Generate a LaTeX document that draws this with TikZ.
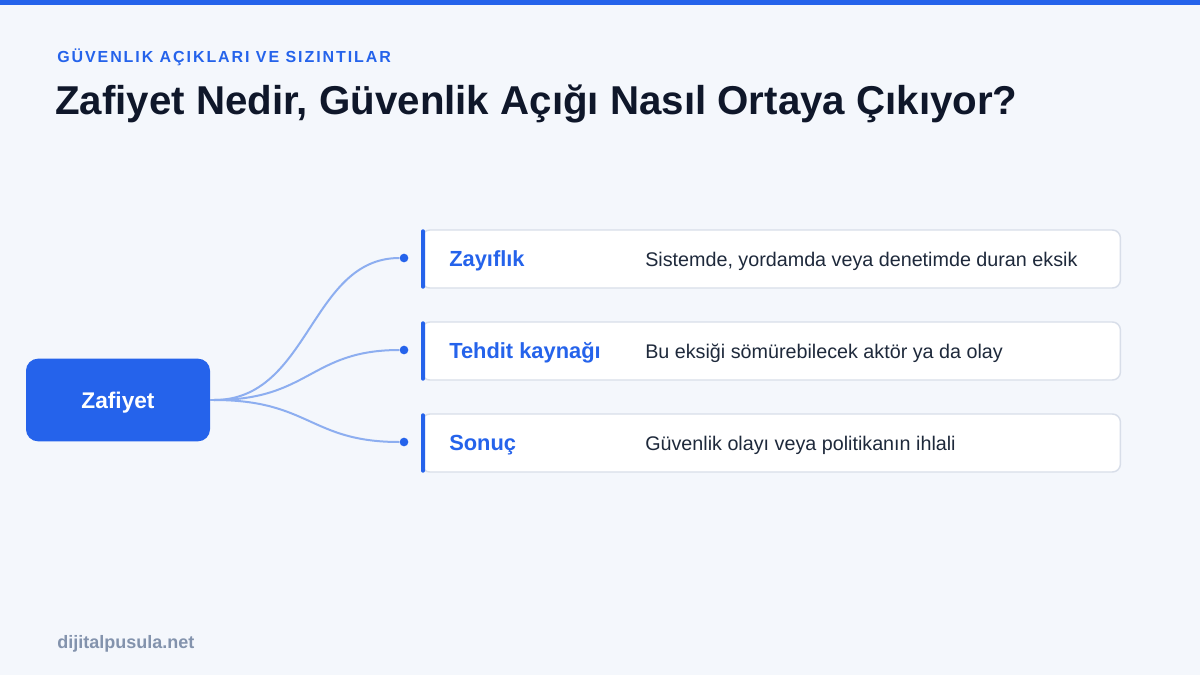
\documentclass[tikz,border=0pt]{standalone}
\usepackage{fontspec}
\setmainfont{Liberation Sans}
\usetikzlibrary{positioning}

\definecolor{pagebg}{HTML}{F4F7FC}
\definecolor{brand}{HTML}{2563EB}
\definecolor{ink}{HTML}{0F172A}
\definecolor{bodyink}{HTML}{1E293B}
\definecolor{wire}{HTML}{8DAEF0}
\definecolor{edge}{HTML}{D8DEE9}
\definecolor{muted}{HTML}{8393AD}

\tikzset{
  root/.style     = {rectangle, rounded corners=9pt, fill=brand, text=white, font=\bfseries\fontsize{17}{20}\selectfont, minimum width=138pt, minimum height=62pt, text depth=0pt, text height=12pt},
  card/.style     = {rectangle, rounded corners=6pt, fill=white, draw=edge, line width=1.1pt, minimum width=524pt, minimum height=43.5pt, anchor=west},
  cardlabel/.style= {text=brand, font=\bfseries\fontsize{16.4}{19}\selectfont, anchor=west, inner sep=0pt},
  carddesc/.style = {text=bodyink, font=\fontsize{14.8}{17}\selectfont, anchor=west, inner sep=0pt},
  wirestyle/.style= {draw=wire, line width=1.5pt},
  pin/.style      = {circle, fill=brand, inner sep=0pt, minimum size=6.5pt},
}

\begin{document}
\begin{tikzpicture}[x=0.75pt, y=-0.75pt]
    % page
    \fill[pagebg] (0,0) rectangle (1200,675);
    \fill[brand] (0,0) rectangle (1200,5);
    \useasboundingbox (0,0) rectangle (1200,675);

    % heading
    \node[anchor=base west, inner sep=0pt, text=brand, font=\bfseries\fontsize{12}{14}\selectfont\addfontfeature{LetterSpace=12}] (kicker) at (57,62) {GÜVENLIK AÇIKLARI VE SIZINTILAR};
    \node[anchor=base west, inner sep=0pt, text=ink, font=\bfseries\fontsize{30.2}{36}\selectfont] (title) at (55,114) {Zafiyet Nedir, Güvenlik Açığı Nasıl Ortaya Çıkıyor?};

    % root
    \node[root] (zafiyet) at (118,400) {Zafiyet};
    \coordinate (fork) at (214,400);

    % cards
    \foreach \n/\y/\lab/\desc in {1/259/Zayıflık/{Sistemde, yordamda veya denetimde duran eksik},
                                  2/351/Tehdit kaynağı/Bu eksiği sömürebilecek aktör ya da olay,
                                  3/443/Sonuç/Güvenlik olayı veya politikanın ihlali}{
        \node[card] (c\n) at (421,\y) {};
        \fill[brand, rounded corners=1.5pt] (c\n.north west) rectangle ([xshift=3pt]c\n.south west);
        \node[cardlabel, right=21pt of c\n.west, yshift=-1.5pt] (l\n) {\lab};
        \node[carddesc] (d\n) at (645,\y+2) {\desc};
        \node[pin] (p\n) at (404,\y-1) {};
        \draw[wirestyle] (fork) .. controls (310,400) and (310,\y-1) .. (p\n);
    }
    \draw[wirestyle] (zafiyet.east) -- (fork);

    % footer
    \node[anchor=base west, inner sep=0pt, text=muted, font=\bfseries\fontsize{13.5}{15}\selectfont] (site) at (57,648) {dijitalpusula.net};
\end{tikzpicture}
\end{document}
